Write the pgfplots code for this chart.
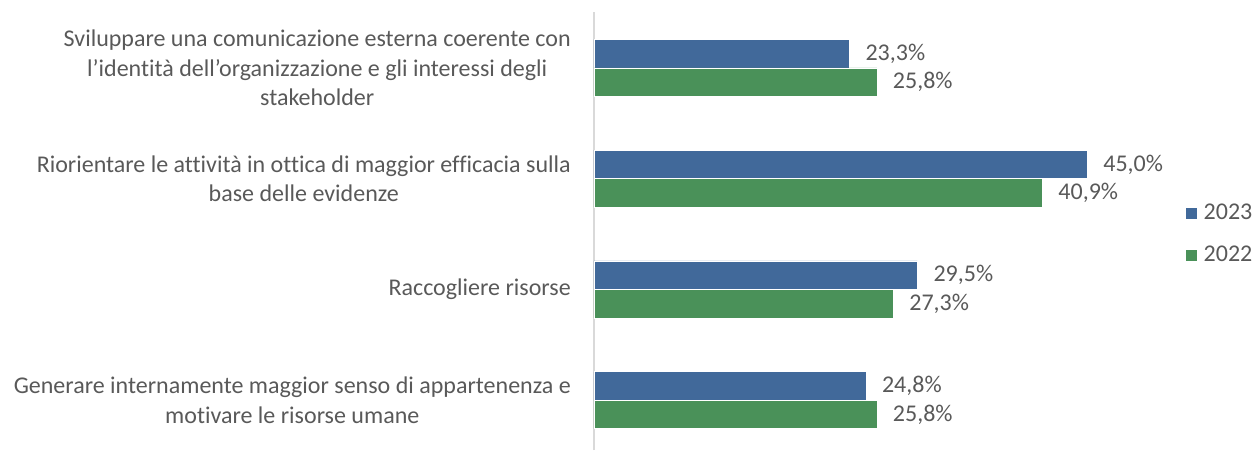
\documentclass[border=0pt]{standalone}
\usepackage{pgfplots}
\pgfplotsset{compat=1.18}
\usepackage{fontspec}
\setmainfont{Carlito}[Ligatures=NoCommon]
\definecolor{blu}{HTML}{41699A}
\definecolor{verde}{HTML}{4A9159}
\definecolor{txt}{HTML}{595959}
\definecolor{asse}{HTML}{D9D9D9}
\begin{document}
\begin{tikzpicture}[x=0.75pt,y=0.75pt]
\useasboundingbox (0,0) rectangle (1253,450);
\begin{axis}[
  at={(594*0.75pt,0pt)}, anchor=south west,
  scale only axis, width=411pt, height=328.5pt,
  xbar, bar width=21.4pt,
  xmin=0, xmax=50, ymin=-0.45, ymax=3.505,
  axis x line=none,
  axis y line*=left,
  y axis line style={draw=asse, line width=1.2pt, -},
  ytick={0,1,2,3}, major tick length=0pt,
  yticklabels={
    {Generare internamente maggior senso di appartenenza e\\motivare le risorse umane},
    {Raccogliere risorse},
    {Riorientare le attività in ottica di maggior efficacia sulla\\base delle evidenze},
    {Sviluppare una comunicazione esterna coerente con\\l’identità dell’organizzazione e gli interessi degli\\stakeholder}},
  yticklabel style={font=\fontsize{18pt}{22.3pt}\selectfont, text=txt, align=center, anchor=east, inner sep=0pt, xshift=-17.25pt},
  nodes near coords={\pgfmathprintnumber[fixed, fixed zerofill, precision=1, use comma]{\pgfplotspointmeta}\%},
  every node near coord/.append style={font=\fontsize{18pt}{20pt}\selectfont, text=txt, anchor=west, inner sep=0pt, xshift=12pt},
  /pgf/number format/assume math mode=true,
  legend style={at={(1.0785,0.493)}, anchor=west, draw=none, fill=none, inner sep=0pt,
    font=\fontsize{18pt}{20pt}\selectfont, text=txt, row sep=18.5pt,
    /tikz/every even column/.append style={column sep=0pt},
    nodes={inner xsep=4.5pt, inner ysep=0pt}},
  legend cell align=left,
  legend image code/.code={\fill[#1] (0pt,-4.5pt) rectangle (9pt,4.5pt);},
  clip=false,
]
\addplot[fill=blu, draw=white, line width=0.3pt, bar shift=10.7pt] coordinates {(24.8,0) (29.5,1) (45.0,2) (23.3,3)};
\addlegendentry{2023}
\addplot[fill=verde, draw=white, line width=0.3pt, bar shift=-10.7pt] coordinates {(25.8,0) (27.3,1) (40.9,2) (25.8,3)};
\addlegendentry{2022}
\end{axis}
\end{tikzpicture}
\end{document}
